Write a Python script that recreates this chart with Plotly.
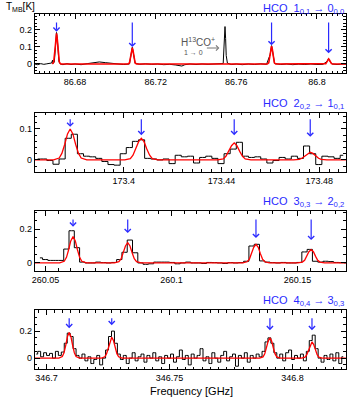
import plotly.graph_objects as go

# HCO multiplets, four stacked spectra (black = data, red = gaussian fit)

# ---- panel 1 : HCO 1-0, high resolution (plus H13CO+ 1-0) ----
p1_freq = [86.6600, 86.6615, 86.6630, 86.6645, 86.6660, 86.6675, 86.6684, 86.6688, 86.6691,
           86.6697, 86.6702, 86.6705, 86.6708, 86.6711, 86.6715, 86.6720, 86.6727, 86.6740,
           86.6760, 86.6780, 86.6800, 86.6830, 86.6860, 86.6890, 86.6920, 86.6950, 86.6980,
           86.7010, 86.7040, 86.7070, 86.7077, 86.7081, 86.7084, 86.7087, 86.7091, 86.7098,
           86.7120, 86.7150, 86.7180, 86.7210, 86.7240, 86.7270, 86.7300, 86.7330, 86.7345,
           86.7370, 86.7400, 86.7430, 86.7460, 86.7490, 86.7520, 86.7535, 86.7539, 86.7542,
           86.7544, 86.7547, 86.7550, 86.7556, 86.7575, 86.7600, 86.7630, 86.7660, 86.7690,
           86.7720, 86.7750, 86.7768, 86.7772, 86.7775, 86.7778, 86.7782, 86.7790, 86.7820,
           86.7850, 86.7880, 86.7910, 86.7940, 86.7970, 86.8000, 86.8030, 86.8051, 86.8055,
           86.8058, 86.8061, 86.8065, 86.8075, 86.8100, 86.8130, 86.8150]
p1_tmb = [0.0, -0.004, 0.002, -0.002, 0.001, 0.004, 0.006, 0.022, 0.004,
          0.01, 0.09, 0.16, 0.185, 0.16, 0.08, 0.015, 0.0, -0.004,
          0.002, -0.003, 0.0, -0.004, 0.002, 0.008, 0.012, 0.008, 0.004,
          0.0, -0.003, 0.0, 0.05, 0.085, 0.098, 0.08, 0.045, 0.005,
          -0.002, 0.001, -0.002, 0.0, -0.004, -0.002, -0.006, -0.012, -0.004,
          0.0, -0.003, 0.0, -0.002, 0.0, -0.002, 0.003, 0.1, 0.2,
          0.22, 0.15, 0.05, 0.005, -0.003, 0.0, -0.004, 0.0, -0.003,
          0.001, -0.002, 0.055, 0.09, 0.108, 0.09, 0.05, 0.003, -0.003,
          0.0, -0.004, -0.001, -0.003, 0.0, -0.003, -0.002, 0.016, 0.026,
          0.032, 0.026, 0.015, 0.0, -0.003, 0.0, -0.002]
p1_fit_freq = [86.6687, 86.6694, 86.6701, 86.67045, 86.6708, 86.67115, 86.6715, 86.6722, 86.6729,
               86.7063, 86.7070, 86.7077, 86.70805, 86.7084, 86.70875, 86.7091, 86.7098, 86.7105,
               86.7754, 86.7761, 86.7768, 86.77715, 86.7775, 86.77785, 86.7782, 86.7789, 86.7796,
               86.8037, 86.8044, 86.8051, 86.80545, 86.8058, 86.80615, 86.8065, 86.8072, 86.8079,
               86.8144]
p1_fit_tmb = [0, 0.011, 0.09, 0.151, 0.18, 0.151, 0.09, 0.011, 0,
              0, 0.006, 0.048, 0.08, 0.095, 0.08, 0.048, 0.006, 0,
              0, 0.007, 0.053, 0.088, 0.105, 0.088, 0.053, 0.007, 0,
              0, 0.002, 0.015, 0.025, 0.03, 0.025, 0.015, 0.002, 0,
              0]
p1_lines = [86.6708, 86.7084, 86.7775, 86.8058]
p1_arrow_tip = [0.19, 0.1, 0.11, 0.063]
p1_arrow_top = 0.253

# ---- panel 2 : HCO 2-1 ----
p2_start, p2_step = 173.3648, 0.0025
p2_tmb = [0.003, 0.003, -0.002, -0.014, 0.003, 0.07, 0.083, 0.02, 0.012, 0.01,
          0.005, -0.005, -0.015, -0.017, 0.02, 0.04, 0.06, 0.065, 0.005, 0.003,
          0.0, 0.003, -0.012, 0.015, 0.01, 0.012, -0.01, 0.008, 0.012, 0.005,
          -0.012, 0.02, 0.035, 0.057, 0.012, 0.008, 0.01, 0.003, -0.01, -0.002,
          0.008, 0.003, 0.012, 0.005, 0.045, 0.02, -0.015, 0.012, 0.01, 0.005, 0.015]
p2_fit_freq = [173.3636,
               173.3713, 173.3736, 173.3747, 173.37585, 173.3770, 173.3781, 173.3792, 173.38035, 173.3815, 173.3826, 173.3849,
               173.4004, 173.4027, 173.4038, 173.40495, 173.4061, 173.4072, 173.4083, 173.40945, 173.4106, 173.4117, 173.4140,
               173.4384, 173.4407, 173.4418, 173.44295, 173.4441, 173.4452, 173.4463, 173.44745, 173.4486, 173.4497, 173.4520,
               173.4695, 173.4718, 173.4729, 173.47405, 173.4752, 173.4763, 173.4774, 173.47855, 173.4797, 173.4808, 173.4831,
               173.4909]
p2_fit_tmb = [0,
              0, 0.006, 0.021, 0.05, 0.084, 0.1, 0.084, 0.05, 0.021, 0.006, 0,
              0, 0.0044, 0.015, 0.035, 0.059, 0.07, 0.059, 0.035, 0.015, 0.0044, 0,
              0, 0.0034, 0.0116, 0.0275, 0.046, 0.055, 0.046, 0.0275, 0.0116, 0.0034, 0,
              0, 0.0016, 0.0053, 0.0125, 0.021, 0.025, 0.021, 0.0125, 0.0053, 0.0016, 0,
              0]
p2_lines = [173.3781, 173.4072, 173.4452, 173.4763]
p2_arrow_tip = [0.107, 0.08, 0.08, 0.075]
p2_arrow_top = 0.136

# ---- panel 3 : HCO 3-2 ----
p3_start, p3_step = 260.04775, 0.0021
p3_tmb = [0.03, 0.02, 0.015, 0.015, 0.015, 0.082, 0.19, 0.09, 0.005, 0.0,
          0.0, 0.005, 0.002, 0.0, 0.003, 0.02, 0.063, 0.135, 0.06, 0.0,
          -0.008, -0.005, 0.005, 0.005, 0.005, 0.003, -0.005, 0.0, 0.005, 0.0,
          0.0, -0.003, 0.003, 0.002, 0.0, -0.003, 0.002, 0.0, 0.002, 0.01,
          0.1, 0.11, 0.012, 0.005, 0.002, 0.0, 0.003, 0.0, 0.0, 0.003,
          0.065, 0.08, 0.01, 0.005, 0.01, 0.008, 0.003, 0.002, 0.0]
p3_fit_freq = [260.0457,
               260.0556, 260.0574, 260.0583, 260.05915, 260.0600, 260.0609, 260.0618, 260.06265, 260.0635, 260.0644, 260.0662,
               260.0773, 260.0791, 260.0800, 260.08085, 260.0817, 260.0826, 260.0835, 260.08435, 260.0852, 260.0861, 260.0879,
               260.1282, 260.1300, 260.1309, 260.13175, 260.1326, 260.1335, 260.1344, 260.13525, 260.1361, 260.1370, 260.1388,
               260.1501, 260.1519, 260.1528, 260.15365, 260.1545, 260.1554, 260.1563, 260.15715, 260.1580, 260.1589, 260.1607,
               260.1692]
p3_fit_tmb = [0,
              0, 0.0097, 0.033, 0.078, 0.13, 0.155, 0.13, 0.078, 0.033, 0.0097, 0,
              0, 0.0075, 0.025, 0.06, 0.1, 0.12, 0.1, 0.06, 0.025, 0.0075, 0,
              0, 0.0069, 0.023, 0.055, 0.092, 0.11, 0.092, 0.055, 0.023, 0.0069, 0,
              0, 0.0049, 0.016, 0.039, 0.066, 0.078, 0.066, 0.039, 0.016, 0.0049, 0,
              0]
p3_lines = [260.0609, 260.0826, 260.1335, 260.1554]
p3_arrow_tip = [0.214, 0.176, 0.147, 0.135]
p3_arrow_top = 0.265

# ---- panel 4 : HCO 4-3 ----
p4_start, p4_step = 346.6958, 0.0012
p4_tmb = [0.03, 0.05, 0.01, 0.04, 0.02, 0.035, 0.0, 0.05, 0.02, 0.045,
          0.11, 0.185, 0.16, 0.07, 0.02, 0.0, 0.03, -0.02, 0.01, -0.04,
          -0.01, 0.02, -0.05, 0.0, 0.06, 0.16, 0.2, 0.11, 0.03, -0.01,
          0.02, -0.04, 0.0, 0.04, -0.02, 0.01, 0.03, -0.03, 0.02, 0.0,
          0.04, -0.02, 0.01, -0.04, 0.02, 0.0, 0.03, -0.03, 0.01, 0.06,
          -0.01, 0.02, -0.05, 0.03, 0.0, 0.02, 0.07, -0.02, 0.01, -0.04,
          0.04, 0.0, -0.03, 0.02, 0.05, -0.02, 0.01, 0.03, -0.06, 0.02,
          0.0, 0.04, -0.03, 0.02, 0.0, 0.03, 0.01, 0.05, 0.12, 0.15,
          0.11, 0.04, 0.0, 0.03, -0.02, 0.04, 0.06, -0.01, 0.02, 0.0,
          0.03, -0.02, 0.05, 0.13, 0.17, 0.07, 0.0, -0.03, 0.02, -0.01,
          0.03, -0.02, 0.04, -0.04, 0.01]
p4_fit_freq = [346.6952,
               346.7050, 346.7064, 346.7071, 346.7078, 346.7085, 346.7092, 346.7099, 346.7106, 346.7113, 346.7120, 346.7134,
               346.7223, 346.7237, 346.7244, 346.7251, 346.7258, 346.7265, 346.7272, 346.7279, 346.7286, 346.7293, 346.7307,
               346.7866, 346.7880, 346.7887, 346.7894, 346.7901, 346.7908, 346.7915, 346.7922, 346.7929, 346.7936, 346.7950,
               346.8037, 346.8051, 346.8058, 346.8065, 346.8072, 346.8079, 346.8086, 346.8093, 346.8100, 346.8107, 346.8121,
               346.8217]
p4_fit_tmb = [0,
              0, 0.012, 0.04, 0.095, 0.16, 0.19, 0.16, 0.095, 0.04, 0.012, 0,
              0, 0.0097, 0.033, 0.078, 0.13, 0.155, 0.13, 0.078, 0.033, 0.0097, 0,
              0, 0.0094, 0.0315, 0.075, 0.126, 0.15, 0.126, 0.075, 0.0315, 0.0094, 0,
              0, 0.0075, 0.025, 0.06, 0.1, 0.12, 0.1, 0.06, 0.025, 0.0075, 0,
              0]
p4_lines = [346.7092, 346.7265, 346.7908, 346.8079]
p4_arrow_tip = [0.222, 0.244, 0.207, 0.207]
p4_arrow_top = 0.306

titles = ['HCO  1<sub>0,1</sub> → 0<sub>0,0</sub>',
          'HCO  2<sub>0,2</sub> → 1<sub>0,1</sub>',
          'HCO  3<sub>0,3</sub> → 2<sub>0,2</sub>',
          'HCO  4<sub>0,4</sub> → 3<sub>0,3</sub>']

BLUE = '#2a2aff'
FONT = 'Liberation Sans'


def channels(start, step, vals):
    return [start + i * step for i in range(len(vals))]


fig = go.Figure()

# data (black) then fit (red) for each panel
fig.add_trace(go.Scatter(x=p1_freq, y=p1_tmb, mode='lines', line=dict(color='black', width=1),
                         xaxis='x', yaxis='y'))
fig.add_trace(go.Scatter(x=p1_fit_freq, y=p1_fit_tmb, mode='lines', line=dict(color='red', width=1.6),
                         xaxis='x', yaxis='y'))

spectra = [(p2_start, p2_step, p2_tmb, p2_fit_freq, p2_fit_tmb),
           (p3_start, p3_step, p3_tmb, p3_fit_freq, p3_fit_tmb),
           (p4_start, p4_step, p4_tmb, p4_fit_freq, p4_fit_tmb)]
for k, (st, sp, tmb, ff, ft) in enumerate(spectra, start=2):
    fig.add_trace(go.Scatter(x=channels(st, sp, tmb), y=tmb, mode='lines', line_shape='hvh',
                             line=dict(color='black', width=1), xaxis=f'x{k}', yaxis=f'y{k}'))
    fig.add_trace(go.Scatter(x=ff, y=ft, mode='lines', line=dict(color='red', width=1.3),
                             xaxis=f'x{k}', yaxis=f'y{k}'))

# axes: pgplot style box, inside ticks on all four sides
xranges = [[86.660, 86.8144], [173.3636, 173.4909], [260.0457, 260.1692], [346.6952, 346.8217]]
yranges = [[-0.053, 0.294], [-0.039, 0.152], [-0.047, 0.306], [-0.081, 0.356]]
xdtick = [0.04, 0.04, 0.05, 0.05]
xminor = [0.0025, 0.004, 0.005, 0.0033333]
ydtick = [0.1, 0.1, 0.2, 0.2]
yminor = [0.02, 0.02, 0.05, 0.05]
ydomains = [[0.817, 0.965], [0.569, 0.717], [0.321, 0.471], [0.075, 0.223]]

axis_common = dict(showline=True, linecolor='black', linewidth=1, mirror='allticks', ticks='inside',
                   ticklen=5, tickwidth=1, tickcolor='black', showgrid=False, zeroline=False,
                   tickfont=dict(family=FONT, size=9, color='black'))
layout_axes = {}
for i in range(4):
    sx = '' if i == 0 else str(i + 1)
    layout_axes[f'xaxis{sx}'] = dict(axis_common, domain=[0.092, 0.994], range=xranges[i],
                                      anchor=f'y{sx}', dtick=xdtick[i], tick0=0,
                                      minor=dict(ticks='inside', ticklen=2.5, dtick=xminor[i], tick0=0,
                                                 tickcolor='black'))
    layout_axes[f'yaxis{sx}'] = dict(axis_common, domain=ydomains[i], range=yranges[i],
                                      anchor=f'x{sx}', dtick=ydtick[i], tick0=0,
                                      minor=dict(ticks='inside', ticklen=2.5, dtick=yminor[i], tick0=0,
                                                 tickcolor='black'))

annotations = []
lines = [p1_lines, p2_lines, p3_lines, p4_lines]
tips = [p1_arrow_tip, p2_arrow_tip, p3_arrow_tip, p4_arrow_tip]
tops = [p1_arrow_top, p2_arrow_top, p3_arrow_top, p4_arrow_top]
for i in range(4):
    sx = '' if i == 0 else str(i + 1)
    for f, t in zip(lines[i], tips[i]):
        annotations.append(dict(x=f, y=t, ax=f, ay=tops[i], xref=f'x{sx}', yref=f'y{sx}',
                                axref=f'x{sx}', ayref=f'y{sx}', text='', showarrow=True,
                                arrowhead=4, arrowsize=1, arrowwidth=1.2, arrowcolor=BLUE))

# panel titles (blue, right aligned above each box); the top one is pinned to the page edge
for i in range(4):
    if i == 0:
        ty, anchor = 1.0, 'top'
    else:
        ty, anchor = ydomains[i][1], 'bottom'
    annotations.append(dict(x=0.994, y=ty, xref='paper', yref='paper', xanchor='right',
                            yanchor=anchor, text=titles[i], showarrow=False,
                            font=dict(family=FONT, size=11, color=BLUE)))

# H13CO+ label with grey arrow
annotations.append(dict(x=86.7412, y=0.128, xref='x', yref='y', text='H<sup>13</sup>CO<sup>+</sup>',
                        showarrow=False, font=dict(family=FONT, size=10, color='#555555')))
annotations.append(dict(x=86.7390, y=0.068, xref='x', yref='y', text='1 → 0',
                        showarrow=False, font=dict(family=FONT, size=7, color='#555555')))
annotations.append(dict(x=86.7516, y=0.094, ax=-14, ay=0, xref='x', yref='y', text='',
                        showarrow=True, arrowhead=4, arrowsize=1, arrowwidth=1, arrowcolor='#777777'))

annotations.append(dict(x=0.003, y=0.982, xref='paper', yref='paper', xanchor='left', yanchor='middle',
                        text='T<sub>MB</sub>[K]', showarrow=False,
                        font=dict(family=FONT, size=10, color='black')))
annotations.append(dict(x=0.545, y=0.02, xref='paper', yref='paper', xanchor='center', yanchor='middle',
                        text='Frequency [GHz]', showarrow=False,
                        font=dict(family=FONT, size=11, color='black')))

fig.update_layout(width=348, height=399, margin=dict(l=0, r=0, t=0, b=0),
                  paper_bgcolor='white', plot_bgcolor='white', showlegend=False,
                  annotations=annotations, **layout_axes)

fig.write_html("out.html", config={'displayModeBar': False},
               post_script="document.body.style.margin='0';")
